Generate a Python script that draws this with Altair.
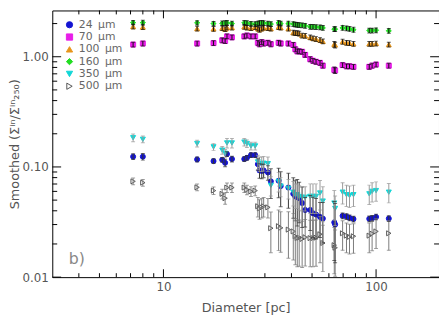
import altair as alt
import pandas as pd

# ---------------- data ----------------
diameter = [7.2, 8.0, 14.4, 17.2, 18.9, 19.5, 19.9, 21.0, 24.0, 24.7, 25.8, 27.0,
            27.8, 28.3, 29.0, 29.6, 31.0, 32.0, 34.8, 35.6, 38.7, 40.8, 41.7, 42.6,
            43.5, 44.9, 46.4, 49.0, 50.5, 52.2, 54.5, 56.2, 63.6, 64.2, 69.6, 72.6,
            75.0, 78.3, 92.9, 95.8, 100.0, 114.8]

s24 = [0.124, 0.124, 0.117, 0.113, 0.116, 0.109, 0.131, 0.118, 0.118, 0.121, 0.128, 0.128,
       0.106, 0.093, 0.092, 0.093, 0.089, 0.074, 0.075, 0.067, 0.065, 0.057, 0.054, 0.053,
       0.052, 0.047, 0.0407, 0.0407, 0.038, 0.037, 0.0352, 0.034, 0.0314, 0.030, 0.036, 0.0355,
       0.0345, 0.0337, 0.0338, 0.0342, 0.0352, 0.034]
s70 = [1.29, 1.32, 1.32, 1.33, 1.41, 1.39, 1.53, 1.50, 1.53, 1.56, 1.53, 1.53,
       1.34, 1.30, 1.36, 1.32, 1.34, 1.30, 1.34, 1.32, 1.32, 1.28, 1.17, 1.12,
       1.12, 1.11, 1.04, 0.95, 0.92, 0.90, 0.88, 0.83, 0.76, 0.75, 0.84, 0.82,
       0.82, 0.81, 0.81, 0.83, 0.85, 0.83]
s100 = [1.88, 1.86, 1.80, 1.79, 1.82, 1.78, 1.84, 1.84, 1.87, 1.84, 1.82, 1.86,
        1.80, 1.76, 1.80, 1.84, 1.82, 1.80, 1.86, 1.84, 1.80, 1.66, 1.64, 1.64,
        1.62, 1.56, 1.55, 1.50, 1.47, 1.45, 1.42, 1.38, 1.30, 1.28, 1.37, 1.34,
        1.33, 1.31, 1.31, 1.31, 1.32, 1.29]
s160 = [2.04, 2.04, 2.03, 2.00, 2.01, 2.02, 2.03, 2.00, 2.03, 2.02, 1.99, 1.98,
        2.00, 2.02, 2.03, 2.02, 2.00, 1.98, 2.03, 2.00, 2.00, 1.98, 1.96, 1.95,
        1.94, 1.93, 1.91, 1.87, 1.87, 1.86, 1.85, 1.83, 1.78, 1.78, 1.83, 1.81,
        1.79, 1.76, 1.73, 1.73, 1.74, 1.72]
s350 = [0.184, 0.178, 0.163, 0.152, 0.142, 0.133, 0.165, 0.165, 0.168, 0.163, 0.155, 0.155,
        0.111, 0.107, 0.107, 0.108, 0.107, 0.068, 0.074, 0.067, 0.064, 0.059, 0.056, 0.056,
        0.054, 0.053, 0.053, 0.054, 0.054, 0.054, 0.058, 0.049, 0.047, 0.042, 0.059, 0.056,
        0.055, 0.056, 0.057, 0.060, 0.061, 0.059]
s500 = [0.074, 0.072, 0.0653, 0.061, 0.057, 0.052, 0.065, 0.065, 0.065, 0.062, 0.060, 0.061,
        0.044, 0.042, 0.043, 0.044, 0.043, 0.0278, 0.029, 0.028, 0.027, 0.026, 0.0235, 0.0226,
        0.0228, 0.0222, 0.023, 0.0226, 0.0226, 0.0228, 0.0245, 0.0204, 0.0195, 0.0185, 0.025, 0.0238,
        0.0232, 0.0235, 0.0238, 0.0248, 0.026, 0.025]

# relative half-length of error bars
e24 = [0.06, 0.07, 0.05, 0.05, 0.05, 0.08, 0.05, 0.06, 0.05, 0.05, 0.05, 0.05,
       0.12, 0.15, 0.15, 0.14, 0.15, 0.30, 0.30, 0.35, 0.35, 0.40, 0.40, 0.45,
       0.40, 0.40, 0.30, 0.35, 0.40, 0.40, 0.35, 0.40, 0.55, 0.55, 0.06, 0.06,
       0.06, 0.06, 0.06, 0.06, 0.06, 0.06]
e70 = [0.05, 0.05, 0.05, 0.05, 0.05, 0.05, 0.05, 0.05, 0.05, 0.05, 0.05, 0.05,
       0.05, 0.05, 0.05, 0.05, 0.05, 0.05, 0.05, 0.05, 0.05, 0.05, 0.05, 0.05,
       0.05, 0.05, 0.05, 0.05, 0.05, 0.05, 0.05, 0.05, 0.06, 0.06, 0.05, 0.05,
       0.05, 0.05, 0.05, 0.05, 0.05, 0.05]
e100 = [0.05, 0.05, 0.05, 0.05, 0.05, 0.05, 0.05, 0.05, 0.05, 0.05, 0.05, 0.05,
        0.05, 0.05, 0.05, 0.05, 0.05, 0.05, 0.05, 0.05, 0.05, 0.05, 0.05, 0.05,
        0.05, 0.05, 0.05, 0.05, 0.05, 0.05, 0.05, 0.05, 0.06, 0.06, 0.05, 0.05,
        0.05, 0.05, 0.05, 0.05, 0.05, 0.05]
e160 = [0.045, 0.05, 0.045, 0.045, 0.05, 0.05, 0.05, 0.05, 0.05, 0.05, 0.05, 0.05,
        0.05, 0.05, 0.05, 0.05, 0.05, 0.05, 0.05, 0.05, 0.05, 0.05, 0.05, 0.05,
        0.05, 0.05, 0.05, 0.05, 0.05, 0.05, 0.05, 0.05, 0.05, 0.05, 0.05, 0.05,
        0.05, 0.05, 0.05, 0.05, 0.05, 0.05]
e350 = [0.08, 0.07, 0.07, 0.07, 0.08, 0.08, 0.10, 0.10, 0.08, 0.08, 0.08, 0.08,
        0.15, 0.15, 0.15, 0.15, 0.15, 0.20, 0.20, 0.20, 0.20, 0.25, 0.25, 0.25,
        0.25, 0.25, 0.25, 0.30, 0.30, 0.30, 0.30, 0.35, 0.30, 0.30, 0.22, 0.22,
        0.22, 0.22, 0.20, 0.20, 0.20, 0.20]
e500 = [0.07, 0.07, 0.07, 0.08, 0.10, 0.12, 0.10, 0.10, 0.10, 0.10, 0.10, 0.10,
        0.20, 0.20, 0.20, 0.20, 0.20, 0.40, 0.40, 0.40, 0.45, 0.45, 0.45, 0.45,
        0.45, 0.45, 0.45, 0.45, 0.45, 0.45, 0.45, 0.45, 0.45, 0.45, 0.30, 0.30,
        0.30, 0.30, 0.30, 0.30, 0.30, 0.30]

names = ["24\u2002μm", "70\u2002μm", "100\u2002μm", "160\u2002μm", "350\u2002μm", "500\u2002μm"]
values = [s24, s70, s100, s160, s350, s500]
errors = [e24, e70, e100, e160, e350, e500]
fills = ["#1414d2", "#e81ee8", "#e8961c", "#22dd22", "#11d6d6", "transparent"]
strokes = ["#1414d2", "#e81ee8", "#e8961c", "#22dd22", "#11d6d6", "#555555"]
shapes = ["circle", "square", "triangle-up", "diamond", "triangle-down", "triangle-right"]
bar_colors = ["#333333", "#111111", "#111111", "#111111", "#9a9a9a", "#7a7a7a"]

x_major = [10, 100]
x_minor = [4, 5, 6, 7, 8, 9, 20, 30, 40, 50, 60, 70, 80, 90]
y_major = [0.01, 0.1, 1.0]
y_minor = [0.02, 0.03, 0.04, 0.05, 0.06, 0.07, 0.08, 0.09,
           0.2, 0.3, 0.4, 0.5, 0.6, 0.7, 0.8, 0.9, 2.0]

# ---------------- build table ----------------
rows = []
for name, vals, errs, bc in zip(names, values, errors, bar_colors):
    for d, v, e in zip(diameter, vals, errs):
        rows.append({"D": d, "v": v, "lo": v * (1 - e), "hi": v * (1 + e),
                     "series": name, "bc": bc})
df = pd.DataFrame(rows)

W, H = 393, 271
XDOM = [3, 197.7]
YDOM = [0.01, 2.63]

xs = alt.Scale(type="log", domain=XDOM, nice=False)
ys = alt.Scale(type="log", domain=YDOM, nice=False)

xaxis = alt.Axis(values=x_major, labelExpr="format(datum.value, 'd')", ticks=False,
                 domain=False, grid=False, title="Diameter [pc]", labelPadding=5,
                 titlePadding=9)
yaxis = alt.Axis(values=y_major, format=".2f", ticks=False, domain=False, grid=False,
                 title="Smoothed (Σⁱⁿ/Σⁱⁿ₂₅₀)", labelPadding=4, titlePadding=1)

base = alt.Chart(df)

leg = dict(title=None, orient="none", legendX=12, legendY=9, labelFontSize=11,
           labelColor="#666666", symbolSize=40, rowPadding=0.5, labelOffset=4,
           symbolStrokeWidth=1, labelFont="DejaVu Sans")
pts = base.mark_point(size=26, strokeWidth=1, opacity=1, fillOpacity=1, clip=True).encode(
    x=alt.X("D:Q", scale=xs, axis=xaxis),
    y=alt.Y("v:Q", scale=ys, axis=yaxis),
    fill=alt.Fill("series:N", scale=alt.Scale(domain=names, range=fills),
                  legend=alt.Legend(**leg), sort=names),
    stroke=alt.Stroke("series:N", scale=alt.Scale(domain=names, range=strokes),
                      legend=alt.Legend(**leg), sort=names),
    shape=alt.Shape("series:N", scale=alt.Scale(domain=names, range=shapes),
                    legend=alt.Legend(**leg), sort=names),
)

bars = base.mark_rule(strokeWidth=1, clip=True).encode(
    x=alt.X("D:Q", scale=xs),
    y=alt.Y("lo:Q", scale=ys),
    y2="hi:Q",
    color=alt.Color("bc:N", scale=None),
)
cap_lo = base.mark_tick(orient="horizontal", size=4, thickness=1, clip=True).encode(
    x=alt.X("D:Q", scale=xs), y=alt.Y("lo:Q", scale=ys),
    color=alt.Color("bc:N", scale=None),
)
cap_hi = base.mark_tick(orient="horizontal", size=4, thickness=1, clip=True).encode(
    x=alt.X("D:Q", scale=xs), y=alt.Y("hi:Q", scale=ys),
    color=alt.Color("bc:N", scale=None),
)

# inward axis ticks (left/right/top/bottom)
ymaj = pd.DataFrame({"t": y_major})
ymin = pd.DataFrame({"t": y_minor})
xmaj = pd.DataFrame({"t": x_major})
xmin = pd.DataFrame({"t": x_minor})

def yticks(dfx, ln):
    l = alt.Chart(dfx).mark_rule(color="black", strokeWidth=1).encode(
        y=alt.Y("t:Q", scale=ys), x=alt.value(0), x2=alt.value(ln))
    r = alt.Chart(dfx).mark_rule(color="black", strokeWidth=1).encode(
        y=alt.Y("t:Q", scale=ys), x=alt.value(W - ln), x2=alt.value(W))
    return l + r

def xticks(dfx, ln):
    b = alt.Chart(dfx).mark_rule(color="black", strokeWidth=1).encode(
        x=alt.X("t:Q", scale=xs), y=alt.value(H - ln), y2=alt.value(H))
    t = alt.Chart(dfx).mark_rule(color="black", strokeWidth=1).encode(
        x=alt.X("t:Q", scale=xs), y=alt.value(0), y2=alt.value(ln))
    return b + t

label_b = alt.Chart(alt.Data(values=[{}])).mark_text(
    fontSize=16, color="#888888", font="DejaVu Sans", align="center", baseline="middle"
).encode(x=alt.value(25), y=alt.value(253), text=alt.value("b)"))

chart = alt.layer(
    pts, bars, cap_lo, cap_hi,
    yticks(ymaj, 9), yticks(ymin, 5), xticks(xmaj, 8), xticks(xmin, 4),
    label_b,
).properties(
    width=W, height=H,
    autosize=alt.AutoSizeParams(type="none"),
    padding={"left": 45, "top": 0, "right": 0, "bottom": 38},
    background="white",
).configure_view(
    stroke="black", strokeWidth=1
).configure_axis(
    labelFont="DejaVu Sans", labelFontSize=12, labelColor="#555555",
    titleFont="DejaVu Sans", titleFontSize=13, titleColor="#555555",
    titleFontWeight="normal",
)

chart.save("out.html", embed_options={"renderer": "svg", "actions": False})
